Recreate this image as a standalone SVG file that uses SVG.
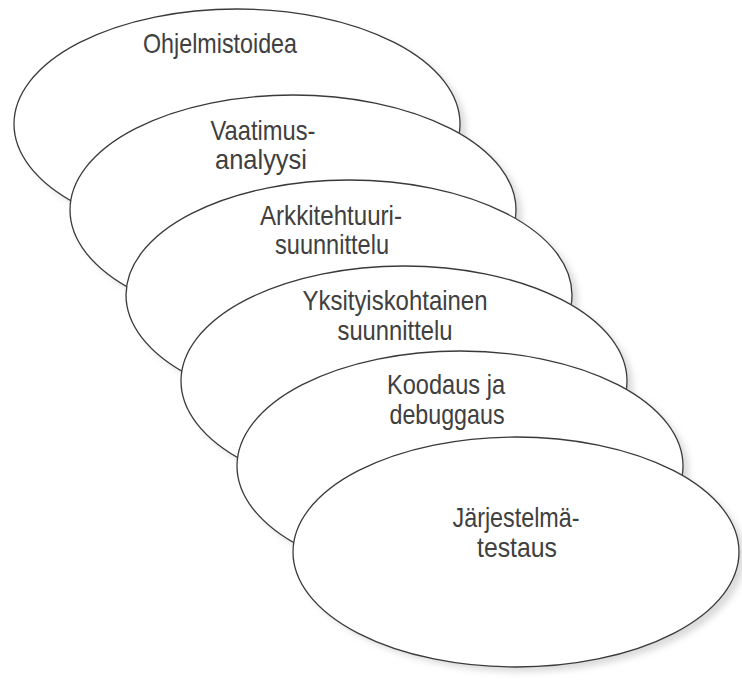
<svg xmlns="http://www.w3.org/2000/svg" width="742" height="684" viewBox="0 0 742 684">
  <defs>
    <filter id="soft" x="-10%" y="-10%" width="120%" height="120%">
      <feGaussianBlur stdDeviation="3"/>
    </filter>
    <style>
      .shadow { fill: #c4c4c4; opacity: 0.6; filter: url(#soft); }
      .oval { fill: #ffffff; stroke: #3a3a3a; stroke-width: 1.3; }
      .lbl { font-family: "Liberation Sans", Arial, sans-serif; font-size: 28px; fill: #404040; text-anchor: middle; }
    </style>
  </defs>
  <rect width="742" height="684" fill="#ffffff"/>

  <g id="n1">
    <ellipse class="shadow" cx="243" cy="129" rx="223" ry="115"/>
    <ellipse class="oval" cx="237" cy="124" rx="223" ry="115"/>
    <text class="lbl" x="220" y="53" textLength="154" lengthAdjust="spacingAndGlyphs">Ohjelmistoidea</text>
  </g>

  <g id="n2">
    <ellipse class="shadow" cx="299" cy="215" rx="223" ry="115"/>
    <ellipse class="oval" cx="293" cy="210" rx="223" ry="115"/>
    <text class="lbl" x="263" y="140" textLength="105" lengthAdjust="spacingAndGlyphs">Vaatimus-</text>
    <text class="lbl" x="261" y="169" textLength="92" lengthAdjust="spacingAndGlyphs">analyysi</text>
  </g>

  <g id="n3">
    <ellipse class="shadow" cx="355" cy="300" rx="223" ry="115"/>
    <ellipse class="oval" cx="349" cy="295" rx="223" ry="115"/>
    <text class="lbl" x="331" y="225" textLength="142" lengthAdjust="spacingAndGlyphs">Arkkitehtuuri-</text>
    <text class="lbl" x="332" y="254" textLength="114" lengthAdjust="spacingAndGlyphs">suunnittelu</text>
  </g>

  <g id="n4">
    <ellipse class="shadow" cx="410" cy="386" rx="223" ry="115"/>
    <ellipse class="oval" cx="404" cy="381" rx="223" ry="115"/>
    <text class="lbl" x="395" y="310" textLength="185" lengthAdjust="spacingAndGlyphs">Yksityiskohtainen</text>
    <text class="lbl" x="395" y="340" textLength="115" lengthAdjust="spacingAndGlyphs">suunnittelu</text>
  </g>

  <g id="n5">
    <ellipse class="shadow" cx="466" cy="471" rx="223" ry="115"/>
    <ellipse class="oval" cx="460" cy="466" rx="223" ry="115"/>
    <text class="lbl" x="446" y="394" textLength="118" lengthAdjust="spacingAndGlyphs">Koodaus ja</text>
    <text class="lbl" x="447" y="424" textLength="115" lengthAdjust="spacingAndGlyphs">debuggaus</text>
  </g>

  <g id="n6">
    <ellipse class="shadow" cx="522" cy="557" rx="223" ry="115"/>
    <ellipse class="oval" cx="516" cy="552" rx="223" ry="115"/>
    <text class="lbl" x="516" y="527" textLength="127" lengthAdjust="spacingAndGlyphs">Järjestelmä-</text>
    <text class="lbl" x="517" y="557" textLength="80" lengthAdjust="spacingAndGlyphs">testaus</text>
  </g>
</svg>
